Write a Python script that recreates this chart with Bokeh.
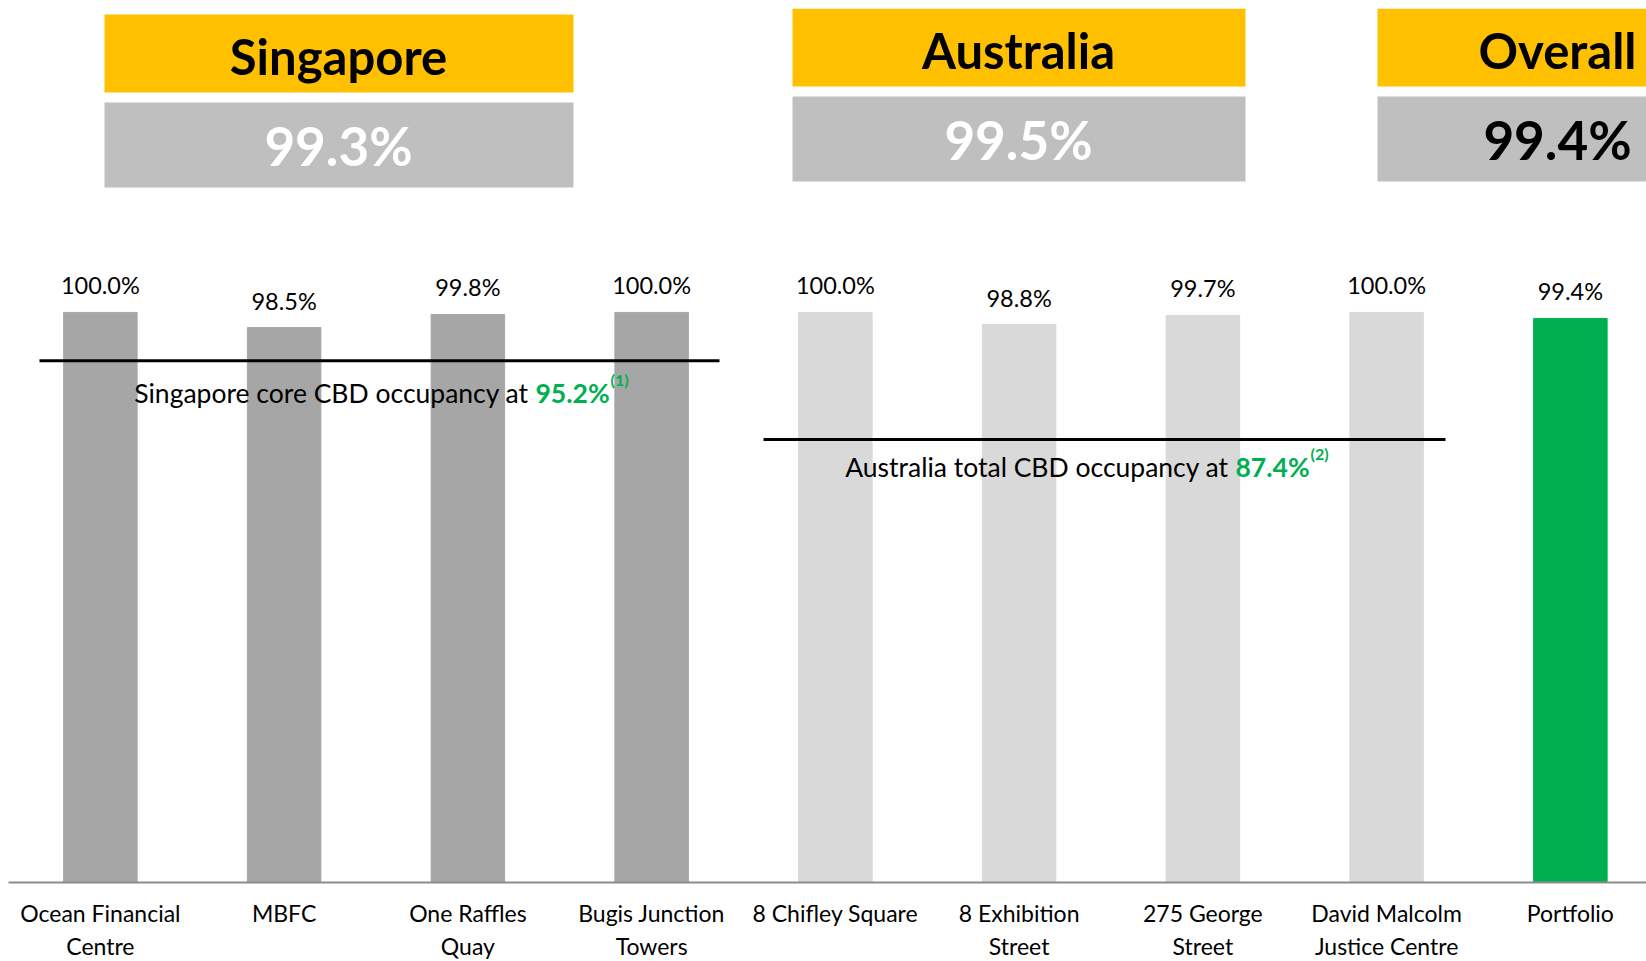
from bokeh.plotting import figure
from bokeh.models import Range1d, FixedTicker, ColumnDataSource
from bokeh.core.properties import value
from bokeh.embed import file_html
from bokeh.resources import INLINE

# ---- data ----
properties = ["Ocean Financial\nCentre", "MBFC", "One Raffles\nQuay", "Bugis Junction\nTowers",
              "8 Chifley Square", "8 Exhibition\nStreet", "275 George\nStreet",
              "David Malcolm\nJustice Centre", "Portfolio"]
occupancy = [100.0, 98.5, 99.8, 100.0, 100.0, 98.8, 99.7, 100.0, 99.4]
group = ["Singapore"] * 4 + ["Australia"] * 4 + ["Portfolio"]
occupancy_labels = ["100.0%", "98.5%", "99.8%", "100.0%", "100.0%", "98.8%", "99.7%", "100.0%", "99.4%"]

regions = ["Singapore", "Australia", "Overall"]
region_occupancy = [99.3, 99.5, 99.4]
region_labels = ["99.3%", "99.5%", "99.4%"]

sg_core_cbd = 95.2
au_total_cbd = 87.4

# ---- styling ----
FONT = "Lato"
bar_colors = {"Singapore": "#A6A6A6", "Australia": "#D9D9D9", "Portfolio": "#00B050"}
GREEN = "#00B050"
YELLOW = "#FFC000"
HDR_GREY = "#BFBFBF"

LEFT, TOP = 8, 8
FW, FH = 1638, 874
XSTEP = 183.75
X0 = -0.5
YMIN = 43.5
YPX = 10.09
YMAX = YMIN + FH / YPX


def px2x(page_x):
    return X0 + (page_x - LEFT) / XSTEP


def py2y(page_y):
    return YMAX - (page_y - TOP) / YPX


p = figure(frame_width=FW, frame_height=FH, output_backend="svg", toolbar_location=None,
           x_range=Range1d(X0, X0 + FW / XSTEP), y_range=Range1d(YMIN, YMAX),
           min_border=0, min_border_left=LEFT, min_border_right=0, min_border_top=TOP)
p.outline_line_color = None
p.xgrid.visible = False
p.ygrid.visible = False
p.yaxis.visible = False
p.background_fill_color = "white"

xs = list(range(len(properties)))
src = ColumnDataSource(dict(x=xs, top=occupancy, color=[bar_colors[g] for g in group],
                            lab=occupancy_labels))
p.vbar(x="x", top="top", bottom=0, width=0.40, color="color", source=src)
p.text(x="x", y="top", text="lab", source=src, text_align="center", text_baseline="bottom",
       y_offset=-13, text_font=value(FONT), text_font_size="23.5px", text_color="black")

ax = p.xaxis[0]
ax.ticker = FixedTicker(ticks=xs)
ax.major_label_overrides = {i: lab for i, lab in enumerate(properties)}
ax.major_tick_line_color = None
ax.minor_tick_line_color = None
ax.axis_line_color = "#8C8C8C"
ax.axis_line_width = 2
ax.major_label_text_font = FONT
ax.major_label_text_font_size = "23px"
ax.major_label_text_color = "black"
ax.major_label_standoff = 10

# market occupancy lines
p.segment(x0=[px2x(39), px2x(763)], x1=[px2x(719), px2x(1445)],
          y0=[sg_core_cbd, au_total_cbd], y1=[sg_core_cbd, au_total_cbd],
          line_color="black", line_width=3)

ann = [("Singapore core CBD occupancy at ", sg_core_cbd, "(1)", px2x(535), 32),
       ("Australia total CBD occupancy at ", au_total_cbd, "(2)", px2x(1235), 27)]
for txt, val, sup, xs_, off in ann:
    p.text(x=[xs_], y=[val], text=[txt], text_align="right", text_baseline="middle",
           y_offset=off, text_font=value(FONT), text_font_size="26.5px", text_color="black")
    p.text(x=[xs_], y=[val], text=[f"{val:.1f}%"], text_align="left", text_baseline="middle",
           y_offset=off, text_font=value(FONT), text_font_size="26.5px", text_color=GREEN,
           text_font_style="bold")
    p.text(x=[xs_], y=[val], text=[sup], text_align="left", text_baseline="middle",
           x_offset=75, y_offset=off - 13, text_font=value(FONT), text_font_size="16px",
           text_color=GREEN, text_font_style="bold")

# header boxes
hdr = [  # left, right, yellow top, yellow bottom, grey top, grey bottom, text centre x, value colour
    (104, 573, 14, 92, 102, 187, 338, "white"),
    (792, 1245, 8, 86, 96, 181, 1018, "white"),
    (1377, 1760, 8, 86, 96, 181, 1557, "black"),
]
for (name, occ_lab, (l, r, yt, yb, gt, gb, cx, vcol)) in zip(regions, region_labels, hdr):
    p.quad(left=[px2x(l)], right=[px2x(r)], top=[py2y(yt)], bottom=[py2y(yb)],
           fill_color=YELLOW, line_color=None)
    p.quad(left=[px2x(l)], right=[px2x(r)], top=[py2y(gt)], bottom=[py2y(gb)],
           fill_color=HDR_GREY, line_color=None)
    p.text(x=[px2x(cx)], y=[py2y((yt + yb) / 2 + 2)], text=[name], text_align="center",
           text_baseline="middle", text_font=value(FONT), text_font_size="49px",
           text_font_style="bold", text_color="black")
    p.text(x=[px2x(cx)], y=[py2y((gt + gb) / 2)], text=[occ_lab], text_align="center",
           text_baseline="middle", text_font=value(FONT), text_font_size="53px",
           text_font_style="bold", text_color=vcol)

open("out.html", "w").write(file_html(p, INLINE))
